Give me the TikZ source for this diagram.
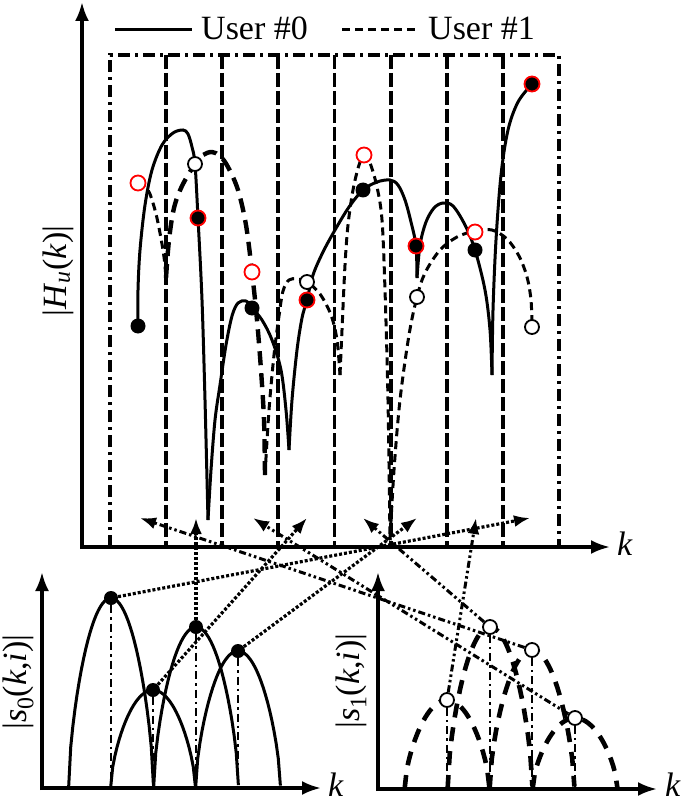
\documentclass[tikz,border=0pt]{standalone}
\usepackage{fontspec}
\setmainfont{Liberation Serif}
\usetikzlibrary{arrows.meta}

% one arch of a subcarrier spectrum: centre, height, base line
\newcommand{\archplot}[3]{plot[domain=-1:1, samples=41]
  ({#1+42.4*\x}, {#3-#2*(0.55*sqrt(abs(1-\x*\x))+0.45*(1-\x*\x))})}

\begin{document}
\begin{tikzpicture}[
  x=1pt, y=-1pt,
  font=\fontsize{34}{40}\selectfont,
  >={Latex[length=16pt, width=12pt]},
  axis/.style={line width=3.3pt, -{Latex[length=19pt, width=14pt]}},
  frame/.style={line width=3.4pt, dash pattern=on 12pt off 5pt on 3pt off 5pt},
  gridline/.style={line width=3.8pt, dash pattern=on 14pt off 4pt},
  user0/.style={line width=3pt},
  user1/.style={line width=3pt, dash pattern=on 8pt off 5pt},
  user1b/.style={line width=4.4pt, dash pattern=on 14pt off 8pt},
  lobe0/.style={line width=3pt},
  lobe1/.style={line width=4.6pt, dash pattern=on 14pt off 10pt},
  stem/.style={line width=2.4pt, dash pattern=on 8pt off 4pt on 2.5pt off 4pt},
  link0/.style={line width=3.2pt, dash pattern=on 3pt off 2pt, ->},
  link1/.style={line width=3pt, dash pattern=on 7pt off 3pt on 2.5pt off 3pt on 2.5pt off 3pt, ->},
  dotb/.style={circle, fill=black, inner sep=0pt, minimum size=15pt},
  dotr/.style={circle, fill=black, draw=red, line width=1.8pt, inner sep=0pt, minimum size=15pt},
  ringr/.style={circle, fill=white, draw=red, line width=1.8pt, inner sep=0pt, minimum size=15pt},
  ringb/.style={circle, fill=white, draw=black, line width=1.8pt, inner sep=0pt, minimum size=14pt},
  lab/.style={inner sep=0pt},
]
  \useasboundingbox (0,0) rectangle (685,802);

  % ---- main plot: |H_u(k)|
  \coordinate (o) at (82,547);
  \foreach \i in {1,...,7}
    \draw[gridline] ({110+56.125*\i},55) -- ({110+56.125*\i},547);
  \draw[frame] (110,547) -- (110,55) -- (559,55) -- (559,547);
  \draw[axis] (82,549) -- (82,2);
  \draw[axis] (80,547) -- (610,547);
  \node[lab] (kh) at (625,544) {\textit{k}};
  \node[lab, rotate=90] (yh) at (58,271) {|\textit{H}\textsubscript{\textit{u}}(\textit{k})|};

  % legend
  \draw[user0] (115,30) -- (192,30);
  \node[anchor=base west, inner sep=0pt] (leg0) at (201,40) {User \#0};
  \draw[user1] (342,30) -- (419,30);
  \node[anchor=base west, inner sep=0pt] (leg1) at (428,40) {User \#1};

  % user #0
  \draw[user0] plot[smooth, tension=0.55] coordinates {(138,326) (138,290) (140,250) (145,205)
    (152,170) (162,145) (173,133) (183,130) (188,134) (192,147) (195,164) (198,218) (202,300)
    (205,400) (208,520)};
  \draw[user0] plot[smooth, tension=0.55] coordinates {(208,520) (211,470) (215,420) (220,385)
    (226,345) (232,316) (238,303) (246,301) (252,308) (262,320) (272,340) (281,370) (286,410)
    (289,450)};
  \draw[user0] plot[smooth, tension=0.55] coordinates {(289,450) (292,400) (297,350) (302,318)
    (307,300) (313,275) (323,252) (335,230) (349,207) (363,190) (377,182) (390,180) (398,185)
    (405,200) (411,222) (416,246) (417,278)};
  \draw[user0] plot[smooth, tension=0.55] coordinates {(417,278) (420,245) (426,222) (434,208)
    (443,203) (453,206) (465,225) (475,250) (485,290) (490,330) (492,375)};
  \draw[user0] plot[smooth, tension=0.55] coordinates {(492,375) (493,310) (496,240) (501,175)
    (508,130) (518,102) (532,84)};

  % user #1
  \draw[user1] plot[smooth, tension=0.55] coordinates {(138,183) (148,190) (155,210) (160,233)
    (164,257) (166,278)};
  \draw[user1b] plot[smooth, tension=0.55] coordinates {(166,278) (169,240) (174,208) (182,186)
    (195,164) (203,155) (212,152) (220,156) (228,167) (238,190) (246,225) (252,272) (257,320)
    (261,370) (264,420) (265,475)};
  \draw[user1] plot[smooth, tension=0.55] coordinates {(265,475) (269,410) (274,355) (279,316)
    (283,291) (289,280) (297,279) (307,282) (320,294) (331,315) (337,340) (340,375)};
  \draw[user1] plot[smooth, tension=0.55] coordinates {(340,375) (342,330) (345,265) (348,225)
    (353,190) (359,165) (364,155) (370,163) (377,187) (382,220) (385,290) (388,400) (390,540)};
  \draw[user1] plot[smooth, tension=0.55] coordinates {(390,540) (394,470) (400,400) (409,335)
    (417,297) (425,273) (440,250) (457,237) (475,231) (492,230) (507,239) (519,256) (527,277)
    (531,300) (532,327)};

  % samples on the bin centres
  \node[dotb] (f0) at (138,326) {};
  \node[dotb] (f2) at (252,308) {};
  \node[dotb] (f4) at (363,190) {};
  \node[dotb] (f6) at (475,250) {};
  \node[dotr] (f1) at (198,218) {};
  \node[dotr] (f3) at (307,300) {};
  \node[dotr] (f5) at (416,246) {};
  \node[dotr] (f7) at (532,84) {};
  \node[ringr] (g0) at (138,183) {};
  \node[ringr] (g2) at (252,272) {};
  \node[ringr] (g4) at (364,155) {};
  \node[ringr] (g6) at (475,232) {};
  \node[ringb] (g1) at (195,164) {};
  \node[ringb] (g3) at (307,282) {};
  \node[ringb] (g5) at (417,297) {};
  \node[ringb] (g7) at (532,327) {};

  % ---- |s_0(k,i)|
  \coordinate (o0) at (42,788);
  \draw[axis] (42,790) -- (42,572);
  \draw[axis] (40,788) -- (321,788);
  \node[lab] (k0) at (336,785) {\textit{k}};
  \node[lab, rotate=90] (ys0) at (18,682) {|\textit{s}\textsubscript{0}(\textit{k},\textit{i})|};
  \foreach \c/\h in {111/190, 153/98, 196/161, 238/137}
    \draw[lobe0] \archplot{\c}{\h}{788};
  \node[dotb, minimum size=14pt] (a1) at (111,598) {};
  \node[dotb, minimum size=14pt] (a2) at (153,690) {};
  \node[dotb, minimum size=14pt] (a3) at (196,627) {};
  \node[dotb, minimum size=14pt] (a4) at (238,651) {};
  \foreach \n in {a1,a2,a3,a4}
    \draw[stem] (\n) -- (\n |- o0);

  % ---- |s_1(k,i)|
  \coordinate (o1) at (378,789);
  \draw[axis] (378,791) -- (378,572);
  \draw[axis] (376,789) -- (657,789);
  \node[lab] (k1) at (673,785) {\textit{k}};
  \node[lab, rotate=90] (ys1) at (351,681) {|\textit{s}\textsubscript{1}(\textit{k},\textit{i})|};
  \foreach \c/\h in {447/89, 490/162, 532/139, 575/71}
    \draw[lobe1] \archplot{\c}{\h}{789};
  \node[ringb] (b1) at (447,700) {};
  \node[ringb] (b2) at (490,627) {};
  \node[ringb] (b3) at (532,650) {};
  \node[ringb] (b4) at (575,718) {};
  \foreach \n in {b1,b2,b3,b4}
    \draw[stem] (\n) -- (\n |- o1);

  % ---- mapping onto the bins
  \foreach \i/\x in {0/140, 1/196, 2/253, 3/307, 4/363, 5/417, 6/476, 7/530}
    \coordinate (t\i) at (\x,518);
  \draw[link0] (a1) -- (t7);
  \draw[link0] (a2) -- (t3);
  \draw[link0] (a3) -- (t1);
  \draw[link0] (a4) -- (t5);
  \draw[link1] (b1) -- (t6);
  \draw[link1] (b2) -- (t4);
  \draw[link1] (b3) -- (t0);
  \draw[link1] (b4) -- (t2);
\end{tikzpicture}
\end{document}
